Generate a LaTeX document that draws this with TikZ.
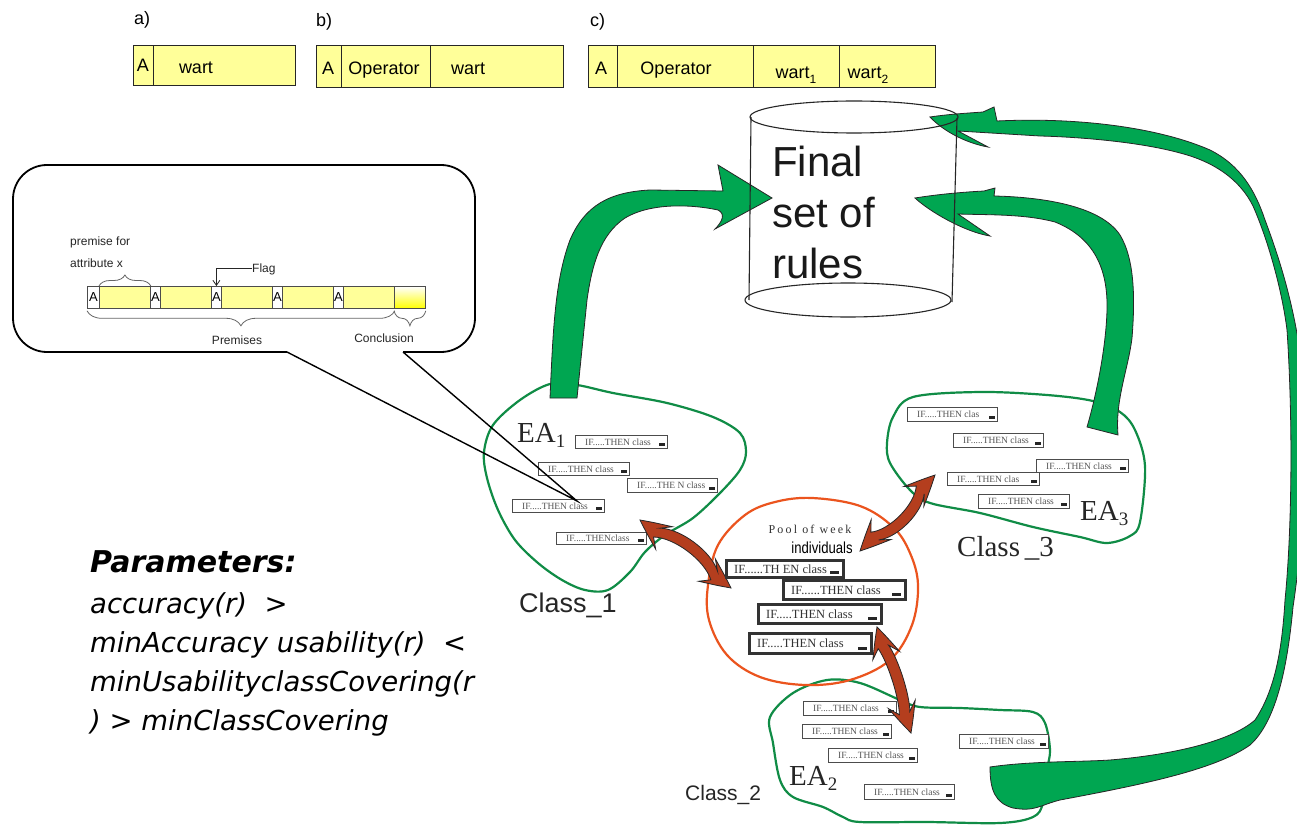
\documentclass[tikz,border=0pt]{standalone}
\usepackage{fontspec}
\usepackage{graphicx}
\setmainfont{Liberation Sans}
\newfontfamily\timesf{Liberation Serif}
\newfontfamily\timesspaced[LetterSpace=18]{Liberation Serif}
\newfontfamily\paramfont{DejaVu Sans}
\usetikzlibrary{decorations.pathreplacing,arrows.meta}

\definecolor{recyellow}{RGB}{255,255,153}
\definecolor{flagyellow}{RGB}{255,255,0}
\definecolor{arrowgreen}{RGB}{0,166,81}
\definecolor{blobgreen}{RGB}{16,140,70}
\definecolor{poolorange}{RGB}{235,84,30}
\definecolor{swapbrown}{RGB}{180,62,30}
\definecolor{ruletext}{RGB}{85,85,85}

\newcommand\fs[1]{\fontsize{#1}{#1}\selectfont}

% fat double-headed exchange arrow between two points, #5 = bow of the shaft
\newcommand\swaparrow[5]{%
  \pgfmathsetmacro\sadx{#3-#1}%
  \pgfmathsetmacro\sady{#2-#4}%
  \pgfmathsetmacro\saang{atan2(\sady,\sadx)}%
  \pgfmathsetmacro\salen{veclen(\sadx,\sady)}%
  \begin{scope}[shift={(#1,#2)}, rotate=\saang, x=1pt, y=1pt]
    \filldraw[swap] (0,0) .. controls (12,6) .. (30,14) .. controls (26,9) .. (21,5.5)
      .. controls ({\salen/3},{5.5+#5}) and ({2*\salen/3},{5.5+#5}) .. ({\salen-21},5.5)
      .. controls ({\salen-26},9) .. ({\salen-30},14) .. controls ({\salen-12},6) .. (\salen,0)
      .. controls ({\salen-12},-6) .. ({\salen-30},-14) .. controls ({\salen-26},-9) .. ({\salen-21},-5.5)
      .. controls ({2*\salen/3},{-5.5+#5}) and ({\salen/3},{-5.5+#5}) .. (21,-5.5)
      .. controls (26,-9) .. (30,-14) .. controls (12,-6) .. cycle;
  \end{scope}}

% one IF..THEN rule box: style, name, top-left corner, width, height, text
\newcommand\rulebox[6]{%
  \node[#1, minimum width=#4pt, minimum height=#5pt,
        label={[#1 text]west:{#6}}] (#2) at (#3) {};}

\tikzset{
  cell/.style={draw=black!85, line width=1.1pt, fill=recyellow, anchor=north west, inner sep=0pt},
  rectxt/.style={anchor=base, inner sep=0pt, font=\fs{18}},
  smallcell/.style={draw=black!70, line width=0.8pt, fill=recyellow, anchor=north west,
    inner sep=0pt, minimum height=22pt, font=\fs{13}},
  smalltxt/.style={inner sep=0pt, font=\fs{12}, text=black!85},
  bracestyle/.style={decorate, draw=black!60, line width=0.8pt},
  blob/.style={draw=blobgreen, line width=2.2pt},
  pool/.style={draw=poolorange, line width=2.2pt},
  greenflow/.style={fill=arrowgreen, draw=black!85, line width=0.8pt},
  swap/.style={fill=swapbrown, draw=black!85, line width=0.8pt},
  cyl/.style={draw=black!85, line width=1.1pt},
  earule/.style={draw=black!70, line width=1pt, fill=white, anchor=north west, inner sep=0pt,
    path picture={\fill[black!85] ([xshift=-9pt,yshift=3pt]path picture bounding box.south east)
      rectangle ++(6pt,2.5pt);}},
  earule text/.style={anchor=west, xshift=10pt, inner sep=0pt, font=\timesf\fs{9.5}, text=ruletext},
  poolrule/.style={draw=black!80, line width=2.6pt, fill=white, anchor=north west, inner sep=0pt,
    path picture={\fill[black!85] ([xshift=-13pt,yshift=3pt]path picture bounding box.south east)
      rectangle ++(9pt,3.5pt);}},
  poolrule text/.style={anchor=west, xshift=9pt, inner sep=0pt, font=\timesf\fs{12.5}, text=black!80},
  eatxt/.style={anchor=base west, inner sep=0pt, font=\timesf\fs{29}, text=black!85},
  param/.style={anchor=base west, inner sep=0pt, font=\paramfont\itshape\fs{27.5}},
}

\begin{document}
\begin{tikzpicture}[x=1pt, y=-1pt]
\useasboundingbox (0,0) rectangle (1297,826);
\fill[white] (0,0) rectangle (1297,826);

% ---------- chromosome layouts a), b), c)
\node[rectxt, anchor=base west] (la) at (134,25) {a)};
\node[rectxt, anchor=base west] (lb) at (316,27) {b)};
\node[rectxt, anchor=base west] (lc) at (590,27) {c)};

\node[cell, minimum width=20pt, minimum height=40pt] (a1) at (133,45) {};
\node[cell, minimum width=142pt, minimum height=40pt] (a2) at (153,45) {};
\node[rectxt] (ta1) at (143,72) {A};
\node[rectxt] (ta2) at (196,74) {wart};

\node[cell, minimum width=25pt, minimum height=42pt] (b1) at (316,45) {};
\node[cell, minimum width=89pt, minimum height=42pt] (b2) at (341,45) {};
\node[cell, minimum width=133pt, minimum height=42pt] (b3) at (430,45) {};
\node[rectxt] (tb1) at (328,75) {A};
\node[rectxt] (tb2) at (384,75) {Operator};
\node[rectxt] (tb3) at (468,75) {wart};

\node[cell, minimum width=29pt, minimum height=42pt] (c1) at (588,45) {};
\node[cell, minimum width=136pt, minimum height=42pt] (c2) at (617,45) {};
\node[cell, minimum width=86pt, minimum height=42pt] (c3) at (753,45) {};
\node[cell, minimum width=96pt, minimum height=42pt] (c4) at (839,45) {};
\node[rectxt] (tc1) at (601,75) {A};
\node[rectxt] (tc2) at (676,75) {Operator};
\node[rectxt] (tc3) at (796,79) {wart\raisebox{-5pt}{\fs{12}1}};
\node[rectxt] (tc4) at (868,79) {wart\raisebox{-5pt}{\fs{12}2}};

% ---------- evolving populations
\draw[blob] plot[smooth cycle, tension=0.55] coordinates {(520,400) (550,384) (577,385) (613,393)
  (667,403) (713,417) (740,433) (746,452) (740,470) (720,493) (693,518) (665,535) (645,552)
  (630,572) (608,590) (585,590) (562,580) (538,563) (515,540) (498,510) (487,478) (484,452) (493,425)};
\draw[blob] plot[smooth cycle, tension=0.55] coordinates {(893,417) (913,397) (980,392) (1047,395)
  (1093,401) (1120,412) (1135,430) (1145,466) (1140,522) (1130,536) (1107,543) (1080,537)
  (1033,527) (980,513) (930,503) (910,490) (890,463) (887,443)};
\draw[blob] plot[smooth cycle, tension=0.55] coordinates {(770,717) (793,693) (827,680) (860,683)
  (900,700) (920,707) (960,708) (1000,710) (1033,712) (1045,723) (1050,750) (1047,770)
  (1043,803) (1033,817) (1000,823) (927,822) (860,822) (843,817) (823,807) (793,797) (780,780) (773,743)};
\draw[pool] plot[smooth cycle, tension=0.6] coordinates {(812,498) (860,506) (893,527) (910,553)
  (918,585) (912,625) (890,660) (850,680) (805,685) (760,677) (727,655) (709,620) (708,585)
  (718,545) (745,515) (775,502)};

% ---------- rules held by each population
\rulebox{earule}{r11}{575,435}{92}{13}{IF.....THEN class}
\rulebox{earule}{r12}{538,462}{91}{13}{IF.....THEN class}
\rulebox{earule}{r13}{627,478}{90}{14}{IF.....THE N class}
\rulebox{earule}{r14}{512,499}{92}{13}{IF.....THEN class}
\rulebox{earule}{r15}{556,532}{90}{12}{IF.....THENclass}

\rulebox{earule}{r31}{907,407}{90}{14}{IF.....THEN clas}
\rulebox{earule}{r32}{953,433}{90}{14}{IF.....THEN class}
\rulebox{earule}{r33}{1036,459}{92}{13}{IF.....THEN class}
\rulebox{earule}{r34}{947,472}{92}{13}{IF.....THEN clas}
\rulebox{earule}{r35}{978,494}{91}{14}{IF.....THEN class}

\rulebox{earule}{r21}{803,701}{93}{14}{IF.....THEN class}
\rulebox{earule}{r22}{802,724}{89}{14}{IF.....THEN class}
\rulebox{earule}{r23}{828,748}{89}{14}{IF.....THEN class}
\rulebox{earule}{r24}{959,734}{89}{14}{IF.....THEN class}
\rulebox{earule}{r25}{864,784}{90}{15}{IF.....THEN class}

% ---------- exchanges with the pool
\swaparrow{640}{520}{731}{588}{12}
\swaparrow{860}{551}{935}{475}{-12}
\swaparrow{877}{627}{911}{733}{5}

\rulebox{poolrule}{p1}{725,559}{117}{17}{IF......TH EN class}
\rulebox{poolrule}{p2}{782,579}{122}{19}{IF......THEN class}
\rulebox{poolrule}{p3}{757,603}{123}{19}{IF.....THEN class}
\rulebox{poolrule}{p4}{748,632}{122}{20}{IF.....THEN class}

\node[anchor=base, inner sep=0pt, font=\timesspaced\fs{12}, text=black!80] (pooltitle) at (810,533) {Pool of week};
\node[anchor=base, inner sep=0pt, font=\fs{16}] (poolsub) at (822,553) {\scalebox{0.82}[1]{individuals}};

% ---------- flows of the best rules into the final set
\filldraw[greenflow] (550,398) .. controls (553,330) and (555,280) .. (570,240)
  .. controls (585,205) and (610,192) .. (650,190) -- (723,191) -- (718,165) -- (772,198)
  -- (715,229) .. controls (722,222) and (726,214) .. (718,210)
  .. controls (690,204) and (650,203) .. (625,218)
  .. controls (600,235) and (592,265) .. (587,300) -- (577,398) -- cycle;

\filldraw[greenflow] (1087,427) .. controls (1095,400) and (1106,350) .. (1107,310)
  .. controls (1108,270) and (1095,238) .. (1055,222)
  .. controls (1025,214) and (990,215) .. (958,214) -- (990,236)
  .. controls (965,232) and (930,212) .. (915,198)
  .. controls (940,194) and (965,192) .. (984,191) -- (995,188) -- (994,196)
  .. controls (1040,197) and (1100,205) .. (1120,235)
  .. controls (1135,260) and (1135,300) .. (1132,338)
  .. controls (1128,370) and (1115,400) .. (1118,435) -- cycle;

\filldraw[greenflow] (930,117) .. controls (950,114) and (970,113) .. (983,112) -- (994,107) -- (997,121)
  .. controls (1080,117) and (1160,128) .. (1210,150)
  .. controls (1240,165) and (1255,190) .. (1265,220)
  .. controls (1280,260) and (1300,320) .. (1305,400)
  .. controls (1308,480) and (1300,560) .. (1293,607)
  .. controls (1288,660) and (1278,720) .. (1250,745)
  .. controls (1215,770) and (1140,785) .. (1060,800)
  .. controls (1040,805) and (1035,812) .. (1013,808)
  .. controls (995,803) and (990,790) .. (990,767)
  .. controls (1030,761) and (1080,762) .. (1110,760)
  .. controls (1170,755) and (1230,742) .. (1255,720)
  .. controls (1275,690) and (1282,650) .. (1285,600)
  .. controls (1292,530) and (1293,420) .. (1287,330)
  .. controls (1282,290) and (1268,240) .. (1253,206)
  .. controls (1240,180) and (1215,162) .. (1180,153)
  .. controls (1140,142) and (1080,137) .. (1040,136)
  -- (958,131) -- (988,147)
  .. controls (965,143) and (942,130) .. (930,117) -- cycle;

% ---------- final rule base
\draw[cyl] (751,117) -- (749,300);
\draw[cyl] (957,118) -- (952,302);
\draw[cyl] (854,117) ellipse [x radius=104pt, y radius=16pt];
\draw[cyl] (848,300) ellipse [x radius=103pt, y radius=17pt];
\node[anchor=base west, inner sep=0pt, font=\fs{42}, text=black!90] (fin1) at (772,177) {Final};
\node[anchor=base west, inner sep=0pt, font=\fs{42}, text=black!90] (fin2) at (772,228) {set of};
\node[anchor=base west, inner sep=0pt, font=\fs{42}, text=black!90] (fin3) at (772,278) {rules};

% ---------- population labels
\node[eatxt] (ea1) at (517,442) {EA\raisebox{-5pt}{\fs{19}1}};
\node[eatxt] (ea3) at (1080,520) {EA\raisebox{-5pt}{\fs{19}3}};
\node[eatxt] (ea2) at (789,785) {EA\raisebox{-5pt}{\fs{19}2}};
\node[anchor=base west, inner sep=0pt, font=\fs{27}, text=black!85] (cl1) at (519,612) {Class\_1};
\node[anchor=base west, inner sep=0pt, font=\fs{21}, text=black!85] (cl2) at (685,800) {Class\_2};
\node[anchor=base west, inner sep=0pt, font=\timesf\fs{29}, text=black!85] (cl3) at (957,556) {Class\,\_3};

% ---------- callout: encoding of one rule
\draw[line width=1.8pt, rounded corners=34pt] (287,352) -- (13,352) -- (13,165) -- (475,165) -- (475,352) -- (403,352);
\coordinate (tl) at (287,352);
\coordinate (tr) at (403,352);
\coordinate (tailtip) at (577,501);
\draw[line width=1.4pt] (tl) -- (tailtip) -- (tr);

\node[smallcell, fill=white, minimum width=12pt] (k1) at (87,286) {A};
\node[smallcell, minimum width=51pt] (k2) at (99,286) {};
\node[smallcell, fill=white, minimum width=10pt] (k3) at (150,286) {A};
\node[smallcell, minimum width=51pt] (k4) at (160,286) {};
\node[smallcell, fill=white, minimum width=10pt] (k5) at (211,286) {A};
\node[smallcell, minimum width=51pt] (k6) at (221,286) {};
\node[smallcell, fill=white, minimum width=10pt] (k7) at (272,286) {A};
\node[smallcell, minimum width=51pt] (k8) at (282,286) {};
\node[smallcell, fill=white, minimum width=10pt] (k9) at (333,286) {A};
\node[smallcell, minimum width=51pt] (k10) at (343,286) {};
\node[smallcell, top color=white, bottom color=flagyellow, minimum width=31pt] (k11) at (394,286) {};

\draw[bracestyle, decoration={brace, amplitude=11pt}] (k2.north west) -- (k2.north east);
\draw[bracestyle, decoration={brace, amplitude=15pt}] ([yshift=-2pt]k10.south east) -- ([yshift=-2pt]k1.south west);
\draw[bracestyle, decoration={brace, amplitude=15pt}] ([yshift=-2pt]k11.south east) -- ([yshift=-2pt]k11.south west);

\node[smalltxt, anchor=base west] (pf1) at (70,246) {premise for};
\node[smalltxt, anchor=base west] (pf2) at (70,267) {attribute x};
\node[smalltxt, anchor=base west] (flag) at (252,272) {Flag};
\draw[black!85, line width=0.8pt, -{Straight Barb[length=5pt, width=7pt]}] (flag.west) -| (k5.north);
\node[smalltxt] (prem) at (237,340) {Premises};
\node[smalltxt] (concl) at (384,338) {Conclusion};

% ---------- selection thresholds
\node[param, font=\paramfont\bfseries\itshape\fs{30}] (ptitle) at (90,572) {Parameters:};
\node[param] (pl1) at (90,613) {accuracy(r)~~>};
\node[param] (pl2) at (90,652) {minAccuracy usability(r)~~<};
\node[param] (pl3) at (90,691) {minUsabilityclassCovering(r};
\node[param] (pl4) at (90,730) {) > minClassCovering};
\end{tikzpicture}
\end{document}
